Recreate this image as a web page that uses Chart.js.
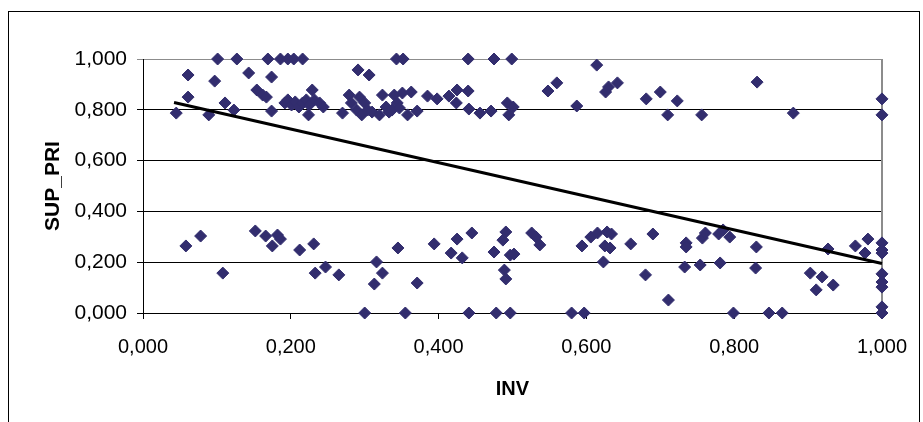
<!DOCTYPE html>
<html>
<head>
<meta charset="utf-8">
<script src="https://cdn.jsdelivr.net/npm/chart.js@4"></script>
<style>
  html, body { margin: 0; padding: 0; background: #fff; }
  #wrap { width: 923px; height: 422px; }
</style>
</head>
<body>
<div id="wrap"><canvas id="myChart" width="923" height="422"></canvas></div>
<script>
// INV / SUP_PRI pairs, upper cluster
const invUpper = [
  0.101, 0.127, 0.169, 0.186, 0.196, 0.204, 0.216, 0.343, 0.352, 0.440, 0.475, 0.499,
  0.061, 0.097, 0.143, 0.174, 0.061, 0.045, 0.089, 0.111, 0.123, 0.154, 0.162, 0.167, 0.174,
  0.192, 0.196, 0.201, 0.206, 0.211, 0.216, 0.221, 0.225, 0.229, 0.232, 0.224, 0.239, 0.244,
  0.291, 0.306,
  0.270, 0.279, 0.282, 0.289, 0.293, 0.296, 0.300, 0.304, 0.310, 0.320, 0.324, 0.329, 0.333, 0.340, 0.344, 0.351, 0.363,
  0.337, 0.347, 0.358, 0.371, 0.385, 0.398, 0.414, 0.425, 0.440, 0.424, 0.441, 0.456, 0.471, 0.493, 0.501, 0.495,
  0.548, 0.560, 0.587, 0.614, 0.626, 0.630, 0.642, 0.681, 0.700, 0.723, 0.710, 0.756, 0.831, 0.880, 1.000, 1.000
];
const supUpper = [
  1, 1, 1, 1, 1, 1, 1, 1, 1, 1, 1, 1,
  0.937, 0.913, 0.945, 0.929, 0.850, 0.787, 0.780, 0.827, 0.799, 0.878, 0.858, 0.850, 0.795,
  0.827, 0.839, 0.819, 0.831, 0.811, 0.827, 0.839, 0.819, 0.878, 0.839, 0.780, 0.827, 0.811,
  0.957, 0.937,
  0.787, 0.858, 0.827, 0.799, 0.850, 0.780, 0.827, 0.799, 0.791, 0.780, 0.858, 0.811, 0.791, 0.858, 0.827, 0.866, 0.870,
  0.799, 0.807, 0.780, 0.795, 0.854, 0.843, 0.854, 0.878, 0.874, 0.827, 0.803, 0.787, 0.795, 0.827, 0.811, 0.780,
  0.874, 0.906, 0.815, 0.976, 0.870, 0.890, 0.906, 0.843, 0.870, 0.835, 0.780, 0.780, 0.909, 0.787, 0.843, 0.780
];

// lower cluster
const invLower = [
  0.058, 0.078, 0.108, 0.152, 0.166, 0.175, 0.182, 0.186, 0.212, 0.231, 0.233, 0.247, 0.265,
  0.316, 0.324, 0.313, 0.300, 0.345, 0.371, 0.394, 0.417, 0.425, 0.432, 0.445,
  0.475, 0.487, 0.491, 0.497, 0.502, 0.489, 0.491, 0.526, 0.532, 0.537,
  0.594, 0.606, 0.615, 0.628, 0.634, 0.625, 0.632, 0.623, 0.660, 0.680, 0.690, 0.711,
  0.735, 0.735, 0.733, 0.754, 0.757, 0.761, 0.779, 0.785, 0.794, 0.781, 0.830, 0.829,
  0.903, 0.919, 0.911, 0.934, 0.927, 0.964, 0.981, 0.977,
  1, 1, 1, 1, 1, 1, 1, 1,
  0.355, 0.441, 0.478, 0.497, 0.580, 0.597, 0.799, 0.847, 0.865
];
const supLower = [
  0.264, 0.303, 0.157, 0.323, 0.303, 0.264, 0.307, 0.291, 0.248, 0.272, 0.157, 0.181, 0.150,
  0.201, 0.157, 0.114, 0, 0.256, 0.118, 0.272, 0.236, 0.291, 0.217, 0.315,
  0.240, 0.287, 0.319, 0.228, 0.232, 0.169, 0.134, 0.315, 0.299, 0.268,
  0.264, 0.299, 0.315, 0.319, 0.311, 0.264, 0.256, 0.201, 0.272, 0.150, 0.311, 0.051,
  0.276, 0.260, 0.181, 0.189, 0.295, 0.315, 0.311, 0.327, 0.299, 0.197, 0.260, 0.177,
  0.157, 0.142, 0.091, 0.110, 0.252, 0.264, 0.291, 0.236,
  0.276, 0.248, 0.236, 0.154, 0.122, 0.102, 0.024, 0,
  0, 0, 0, 0, 0, 0, 0, 0, 0
];

// linear trend line end points
const trendX = [0.042, 1.0];
const trendY = [0.829, 0.195];

const tickValues = [0, 0.2, 0.4, 0.6, 0.8, 1.0];

const toPoints = (xs, ys) => xs.map((x, i) => ({ x: x, y: ys[i] }));
const points = toPoints(invUpper, supUpper).concat(toPoints(invLower, supLower));
const trend = toPoints(trendX, trendY);

const fmt = v => v.toFixed(3).replace('.', ',');
const markerColor = '#322d6e';

// frame round the whole chart and the grey plot-area edge on the right
const framePlugin = {
  id: 'frame',
  beforeDraw(chart) {
    const ctx = chart.ctx;
    ctx.save();
    ctx.fillStyle = '#fff';
    ctx.fillRect(0, 0, chart.width, chart.height);
    ctx.strokeStyle = '#000';
    ctx.lineWidth = 1;
    ctx.strokeRect(8.5, 11.5, 911, 430);
    ctx.restore();
  },
  beforeDatasetsDraw(chart) {
    const { ctx, chartArea } = chart;
    ctx.save();
    ctx.strokeStyle = '#8c8c8c';
    ctx.lineWidth = 2;
    ctx.beginPath();
    ctx.moveTo(chartArea.right, chartArea.top);
    ctx.lineTo(chartArea.right, chartArea.bottom);
    ctx.stroke();
    ctx.restore();
  }
};

const config = {
  type: 'scatter',
  data: {
    datasets: [
      {
        label: 'SUP_PRI',
        data: points,
        pointStyle: 'rectRot',
        pointRadius: 6,
        pointHoverRadius: 6,
        backgroundColor: markerColor,
        borderColor: markerColor,
        borderWidth: 1,
        clip: false,
        order: 2
      },
      {
        label: 'trend',
        type: 'line',
        data: trend,
        borderColor: '#000',
        borderWidth: 3,
        pointRadius: 0,
        fill: false,
        clip: false,
        order: 1
      }
    ]
  },
  options: {
    responsive: false,
    animation: false,
    layout: { padding: { top: 59, right: 39, left: 0, bottom: 0 } },
    plugins: {
      legend: { display: false },
      tooltip: { enabled: false }
    },
    scales: {
      x: {
        type: 'linear',
        min: 0,
        max: 1,
        afterBuildTicks: s => { s.ticks = tickValues.map(v => ({ value: v })); },
        afterFit: s => { s.height = 109; },
        grid: {
          drawOnChartArea: false,
          drawTicks: true,
          tickLength: 6,
          color: '#000'
        },
        border: { color: '#000', width: 1 },
        ticks: {
          color: '#000',
          padding: 16,
          maxRotation: 0,
          font: { family: 'Liberation Sans', size: 20 },
          callback: v => fmt(v)
        },
        title: {
          display: true,
          text: 'INV',
          color: '#000',
          font: { family: 'Liberation Sans', size: 20, weight: 'bold' },
          padding: { top: 0, bottom: 21 }
        }
      },
      y: {
        type: 'linear',
        min: 0,
        max: 1,
        afterBuildTicks: s => { s.ticks = tickValues.map(v => ({ value: v })); },
        afterFit: s => { s.width = 143; },
        grid: {
          drawTicks: true,
          tickLength: 6,
          lineWidth: 1,
          color: ctx => (ctx.tick && ctx.tick.value === 1 ? '#8c8c8c' : '#000')
        },
        border: { color: '#000', width: 1 },
        ticks: {
          color: '#000',
          padding: 10,
          font: { family: 'Liberation Sans', size: 21 },
          callback: v => fmt(v)
        },
        title: {
          display: true,
          text: 'SUP_PRI',
          color: '#000',
          font: { family: 'Liberation Sans', size: 21, weight: 'bold' },
          padding: { top: 41, bottom: 0 }
        }
      }
    }
  },
  plugins: [framePlugin]
};

const myChart = new Chart(document.getElementById('myChart'), config);
</script>
</body>
</html>
